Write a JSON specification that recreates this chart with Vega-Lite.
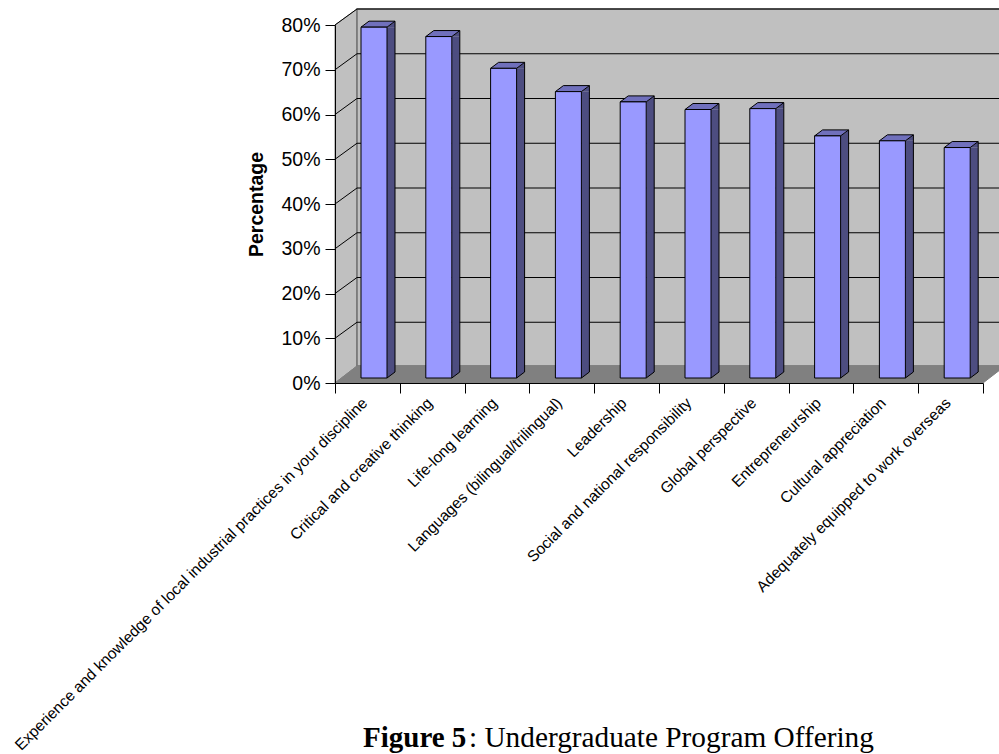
{
"$schema":"https://vega.github.io/schema/vega-lite/v6.json",
"width":648,"height":358,
"autosize":{"type":"none"},
"padding":{"left":335,"top":25,"right":16,"bottom":371},
"background":"white",
"config":{"view":{"stroke":null},"font":"Liberation Sans"},
"datasets":{
"bars":[
{"skill":"Experience and knowledge of local industrial practices in your discipline","pct":0.784},
{"skill":"Critical and creative thinking","pct":0.763},
{"skill":"Life-long learning","pct":0.692},
{"skill":"Languages (bilingual/trilingual)","pct":0.64},
{"skill":"Leadership","pct":0.617},
{"skill":"Social and national responsibility","pct":0.6},
{"skill":"Global perspective","pct":0.602},
{"skill":"Entrepreneurship","pct":0.541},
{"skill":"Cultural appreciation","pct":0.53},
{"skill":"Adequately equipped to work overseas","pct":0.515}
],
"grid":[{"g":0.1},{"g":0.2},{"g":0.3},{"g":0.4},{"g":0.5},{"g":0.6},{"g":0.7},{"g":0.8}],
"origin":[{"o":0}]
},
"encoding":{
"x":{"field":"skill","type":"nominal","sort":null,"title":null,
"scale":{"type":"band","paddingInner":0,"paddingOuter":0,"domain":["Experience and knowledge of local industrial practices in your discipline","Critical and creative thinking","Life-long learning","Languages (bilingual/trilingual)","Leadership","Social and national responsibility","Global perspective","Entrepreneurship","Cultural appreciation","Adequately equipped to work overseas"]},
"axis":{"zindex":1,"tickBand":"extent","tickSize":10,"tickColor":"#000","domainColor":"#000","labelAngle":-45,"labelAlign":"right","labelBaseline":"middle","labelFontSize":15.5,"labelColor":"#000","labelLimit":1000,"labelOverlap":false,"labelPadding":7,"labelOffset":-3,"labelFont":"Liberation Sans"}},
"y":{"type":"quantitative","title":"Percentage","scale":{"domain":[0,0.8]},
"axis":{"zindex":1,"values":[0,0.1,0.2,0.3,0.4,0.5,0.6,0.7,0.8],"format":".0%","grid":false,"tickSize":10,"tickColor":"#000","domainColor":"#000","labelFontSize":19.5,"labelColor":"#000","labelPadding":5,"titleFontSize":19.5,"titleFontWeight":"bold","titleColor":"#000","titlePadding":14,"labelFont":"Liberation Sans","titleFont":"Liberation Sans"}}
},
"layer":[
{"data":{"name":"origin"},"mark":{"type":"point","shape":"M-32.4,0L-10.4,-17L-10.4,-374L-32.4,-358Z","size":4,"filled":true,"fill":"#C0C0C0","stroke":"#808080","strokeWidth":1,"opacity":1,"clip":false},
"encoding":{"x":{"datum":"Experience and knowledge of local industrial practices in your discipline"},"y":{"datum":0}}},
{"data":{"name":"origin"},"mark":{"type":"point","shape":"M-10.4,-17L-10.4,-374L637.6,-374L637.6,-17Z","size":4,"filled":true,"fill":"#C0C0C0","stroke":"#707070","strokeWidth":1.5,"opacity":1,"clip":false},
"encoding":{"x":{"datum":"Experience and knowledge of local industrial practices in your discipline"},"y":{"datum":0}}},
{"data":{"name":"origin"},"mark":{"type":"point","shape":"M-32.4,0L-10.4,-17L637.6,-17L615.6,0Z","size":4,"filled":true,"fill":"#808080","stroke":"#808080","strokeWidth":1,"opacity":1,"clip":false},
"encoding":{"x":{"datum":"Experience and knowledge of local industrial practices in your discipline"},"y":{"datum":0}}},
{"data":{"name":"grid"},"mark":{"type":"point","shape":"M-32.4,0L-10.4,-16L637.6,-16","size":4,"filled":false,"stroke":"#000","strokeWidth":1,"opacity":1,"clip":false},
"encoding":{"x":{"datum":"Experience and knowledge of local industrial practices in your discipline"},"y":{"field":"g","type":"quantitative"}}},
{"data":{"name":"bars"},"mark":{"type":"bar","width":8,"fill":"#4D4D80","xOffset":23.6,"yOffset":-5,"y2Offset":-11},
"encoding":{"y":{"field":"pct","type":"quantitative"},"y2":{"datum":0}}},
{"data":{"name":"bars"},"mark":{"type":"point","shape":"M19.6,-5L27.6,-11L19.6,-11Z","size":4,"filled":true,"fill":"#4D4D80","strokeWidth":0,"opacity":1},
"encoding":{"y":{"datum":0}}},
{"data":{"name":"bars"},"mark":{"type":"point","shape":"M19.6,-5L27.6,-11L27.6,-5Z","size":4,"filled":true,"fill":"#4D4D80","strokeWidth":0,"opacity":1},
"encoding":{"y":{"field":"pct","type":"quantitative"}}},
{"data":{"name":"bars"},"mark":{"type":"point","shape":"M-6.4,-5L1.6,-11L27.6,-11L19.6,-5Z","size":4,"filled":true,"fill":"#7070BC","stroke":"#000","strokeWidth":1,"opacity":1},
"encoding":{"y":{"field":"pct","type":"quantitative"}}},
{"data":{"name":"bars"},"mark":{"type":"rule","stroke":"#000","strokeWidth":1,"xOffset":27.6,"yOffset":-11,"y2Offset":-11},
"encoding":{"y":{"field":"pct","type":"quantitative"},"y2":{"datum":0}}},
{"data":{"name":"bars"},"mark":{"type":"point","shape":"M19.6,-5L27.6,-11","size":4,"filled":false,"stroke":"#000","strokeWidth":1,"opacity":1},
"encoding":{"y":{"datum":0}}},
{"data":{"name":"bars"},"mark":{"type":"bar","width":26,"fill":"#9999FF","stroke":"#000","strokeWidth":1,"xOffset":6.6,"yOffset":-5,"y2Offset":-5},
"encoding":{"y":{"field":"pct","type":"quantitative"},"y2":{"datum":0}}},
{"data":{"name":"origin"},"mark":{"type":"text","text":"Figure 5","font":"Liberation Serif","fontSize":29,"fontWeight":"bold","align":"left","baseline":"alphabetic","color":"#000","dx":-4.4,"dy":364,"clip":false},
"encoding":{"x":{"datum":"Experience and knowledge of local industrial practices in your discipline"},"y":{"datum":0}}},
{"data":{"name":"origin"},"mark":{"type":"text","text":": Undergraduate Program Offering","font":"Liberation Serif","fontSize":29.3,"align":"left","baseline":"alphabetic","color":"#000","dx":101.6,"dy":364,"clip":false},
"encoding":{"x":{"datum":"Experience and knowledge of local industrial practices in your discipline"},"y":{"datum":0}}}
]
}
